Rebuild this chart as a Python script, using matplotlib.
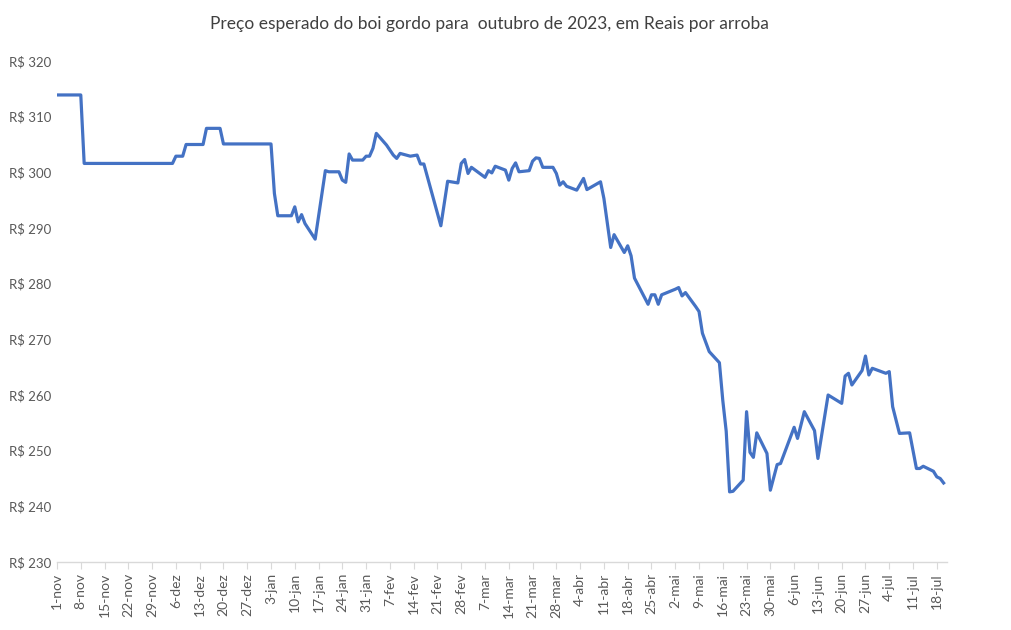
import numpy as np
import pandas as pd
import matplotlib
matplotlib.use("Agg")
import matplotlib.pyplot as plt

plt.rcParams['font.family'] = ['Lato', 'DejaVu Sans']

# expected price of "boi gordo" for October 2023 delivery (R$/arroba)
dates = [
    "2022-11-01", "2022-11-08", "2022-11-09", "2022-12-05", "2022-12-06", "2022-12-08",
    "2022-12-09", "2022-12-14", "2022-12-15", "2022-12-19", "2022-12-20", "2023-01-03",
    "2023-01-04", "2023-01-05", "2023-01-09", "2023-01-10", "2023-01-11", "2023-01-12",
    "2023-01-13", "2023-01-16", "2023-01-19", "2023-01-20", "2023-01-23", "2023-01-24",
    "2023-01-25", "2023-01-26", "2023-01-27", "2023-01-30", "2023-01-31", "2023-02-01",
    "2023-02-02", "2023-02-03", "2023-02-06", "2023-02-08", "2023-02-09", "2023-02-10",
    "2023-02-13", "2023-02-15", "2023-02-16", "2023-02-17", "2023-02-22", "2023-02-24",
    "2023-02-27", "2023-02-28", "2023-03-01", "2023-03-02", "2023-03-03", "2023-03-07",
    "2023-03-08", "2023-03-09", "2023-03-10", "2023-03-13", "2023-03-14", "2023-03-15",
    "2023-03-16", "2023-03-17", "2023-03-20", "2023-03-21", "2023-03-22", "2023-03-23",
    "2023-03-24", "2023-03-27", "2023-03-28", "2023-03-29", "2023-03-30", "2023-03-31",
    "2023-04-03", "2023-04-05", "2023-04-06", "2023-04-10", "2023-04-11", "2023-04-13",
    "2023-04-14", "2023-04-17", "2023-04-18", "2023-04-19", "2023-04-20", "2023-04-24",
    "2023-04-25", "2023-04-26", "2023-04-27", "2023-04-28", "2023-05-02", "2023-05-03",
    "2023-05-04", "2023-05-05", "2023-05-08", "2023-05-09", "2023-05-10", "2023-05-12",
    "2023-05-15", "2023-05-16", "2023-05-17", "2023-05-18", "2023-05-19", "2023-05-22",
    "2023-05-23", "2023-05-24", "2023-05-25", "2023-05-26", "2023-05-29", "2023-05-30",
    "2023-06-01", "2023-06-02", "2023-06-06", "2023-06-07", "2023-06-09", "2023-06-12",
    "2023-06-13", "2023-06-16", "2023-06-20", "2023-06-21", "2023-06-22", "2023-06-23",
    "2023-06-26", "2023-06-27", "2023-06-28", "2023-06-29", "2023-07-03", "2023-07-04",
    "2023-07-05", "2023-07-07", "2023-07-10", "2023-07-12", "2023-07-13", "2023-07-14",
    "2023-07-17", "2023-07-18", "2023-07-19", "2023-07-20",
]
prices = [
    313.9, 313.9, 301.6, 301.6, 302.9, 302.9,
    305.0, 305.0, 307.9, 307.9, 305.1, 305.1,
    296.2, 292.2, 292.2, 293.8, 291.1, 292.4,
    290.8, 288.0, 300.3, 300.1, 300.1, 298.6,
    298.2, 303.3, 302.2, 302.2, 302.9, 302.9,
    304.3, 307.0, 304.9, 303.1, 302.5, 303.4,
    302.9, 303.1, 301.5, 301.5, 290.4, 298.4,
    298.1, 301.6, 302.3, 299.8, 300.9, 299.1,
    300.3, 299.9, 301.1, 300.4, 298.6, 300.7,
    301.7, 300.1, 300.3, 302.0, 302.6, 302.5,
    300.9, 300.9, 299.8, 297.7, 298.3, 297.5,
    296.8, 298.9, 296.9, 298.3, 295.3, 286.5,
    288.8, 285.6, 286.8, 285.0, 281.0, 276.3,
    278.0, 278.0, 276.3, 278.0, 279.0, 279.3,
    277.8, 278.4, 275.9, 275.0, 271.1, 267.8,
    265.8, 259.0, 253.5, 242.6, 242.7, 244.7,
    257.0, 249.7, 248.8, 253.2, 249.5, 242.9,
    247.5, 247.7, 254.2, 252.2, 257.0, 253.6,
    248.6, 260.0, 258.5, 263.4, 263.9, 261.8,
    264.4, 267.0, 263.6, 264.8, 263.9, 264.2,
    257.9, 253.1, 253.2, 246.8, 246.8, 247.2,
    246.3, 245.3, 245.0, 244.2,
]
month_abbr = ["jan", "fev", "mar", "abr", "mai", "jun",
              "jul", "ago", "set", "out", "nov", "dez"]
y_ticks = [230, 240, 250, 260, 270, 280, 290, 300, 310, 320]

x = pd.to_datetime(dates)
tick_dates = pd.date_range("2022-11-01", "2023-07-18", freq="7D")
tick_labels = [f"{d.day}-{month_abbr[d.month - 1]}" for d in tick_dates]

fig = plt.figure(figsize=(10.12, 6.3), dpi=100)
ax = fig.add_axes([57 / 1012, 1 - 562 / 630, 890 / 1012, 501 / 630])

ax.plot(x, prices, color="#4472C4", lw=2.3, solid_joinstyle="round")

ax.set_ylim(230, 320)
ax.set_yticks(y_ticks)
ax.set_yticklabels([f"R$ {v}" for v in y_ticks])
ax.set_xlim(pd.Timestamp("2022-11-01"), pd.Timestamp("2023-07-21"))
ax.set_xticks(tick_dates)
ax.set_xticklabels(tick_labels, rotation=90)

for s in ["top", "right", "left"]:
    ax.spines[s].set_visible(False)
ax.spines["bottom"].set_color("#d9d9d9")
ax.spines["bottom"].set_linewidth(1)
ax.tick_params(axis="y", length=0, pad=4, labelsize=9.5, labelcolor="#595959")
ax.tick_params(axis="x", length=5, color="#d9d9d9", pad=3, labelsize=10,
               labelcolor="#595959")

fig.text(489 / 1012, 1 - 24 / 630,
         "Preço esperado do boi gordo para  outubro de 2023, em Reais por arroba",
         ha="center", va="center", fontsize=12.5, color="#404040")

fig.savefig("out.png", dpi=100, facecolor="white")
